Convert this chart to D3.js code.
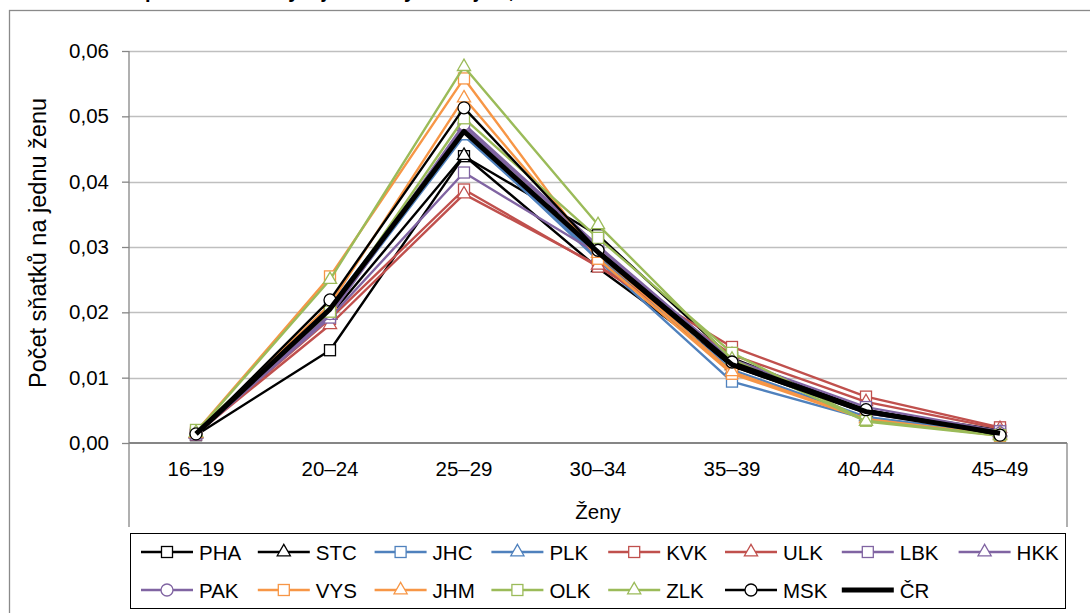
<!DOCTYPE html>
<html><head><meta charset="utf-8">
<script src="https://cdn.jsdelivr.net/npm/d3@7"></script>
<style>body{margin:0;background:#fff}svg{display:block;font-family:"Liberation Sans",Arial,sans-serif}</style>
</head><body><svg id="c" width="1090" height="613"></svg>
<script>
const categories=["16–19","20–24","25–29","30–34","35–39","40–44","45–49"];
const yTicks=[0,0.01,0.02,0.03,0.04,0.05,0.06];
const seriesNames=["PHA","STC","JHC","PLK","KVK","ULK","LBK","HKK","PAK","VYS","JHM","OLK","ZLK","MSK","ČR"];
const seriesColors=["#000000","#000000","#4F81BD","#4F81BD","#C0504D","#C0504D","#8064A2","#8064A2","#8064A2","#F79646","#F79646","#9BBB59","#9BBB59","#000000","#000000"];
const seriesMarkers=["square","triangle","square","triangle","square","triangle","square","triangle","circle","square","triangle","square","triangle","circle","none"];
const PHA=[0.0012,0.0142,0.0439,0.0318,0.0130,0.0050,0.0020];
const STC=[0.0014,0.0195,0.0440,0.0268,0.0118,0.0046,0.0017];
const JHC=[0.0015,0.0210,0.0474,0.0280,0.0094,0.0037,0.0013];
const PLK=[0.0014,0.0200,0.0470,0.0285,0.0112,0.0040,0.0014];
const KVK=[0.0013,0.0190,0.0388,0.0270,0.0147,0.0071,0.0024];
const ULK=[0.0014,0.0181,0.0381,0.0272,0.0135,0.0063,0.0022];
const LBK=[0.0013,0.0192,0.0414,0.0290,0.0128,0.0055,0.0018];
const HKK=[0.0014,0.0195,0.0484,0.0300,0.0125,0.0048,0.0016];
const PAK=[0.0015,0.0198,0.0488,0.0302,0.0126,0.0046,0.0015];
const VYS=[0.0017,0.0255,0.0558,0.0282,0.0106,0.0036,0.0011];
const JHM=[0.0015,0.0212,0.0528,0.0290,0.0109,0.0037,0.0012];
const OLK=[0.0020,0.0201,0.0497,0.0314,0.0138,0.0034,0.0012];
const ZLK=[0.0016,0.0250,0.0576,0.0334,0.0128,0.0033,0.0011];
const MSK=[0.0014,0.0219,0.0513,0.0295,0.0124,0.0051,0.0012];
const CR=[0.0014,0.0205,0.0477,0.0292,0.0120,0.0048,0.0015];
const seriesValues=[PHA,STC,JHC,PLK,KVK,ULK,LBK,HKK,PAK,VYS,JHM,OLK,ZLK,MSK,CR];
const titleText="Míra sňatečnosti žen podle věku ženy v jednotlivých krajích, 2011";
const yTitle="Počet sňatků na jednu ženu";
const xTitle="Ženy";

const svg=d3.select("#c");
const L=129,R=1067,T=51,B=443;
const FS=20.5;
const x=d3.scaleBand().domain(categories).range([L,R]);
const y=d3.scaleLinear().domain([0,0.06]).range([B,T]);
const cx=c=>x(c)+x.bandwidth()/2;
const fmt=v=>d3.format(".2f")(v).replace(".",",");

// outer border
svg.append("rect").attr("x",9.5).attr("y",10.5).attr("width",1100).attr("height",620)
  .attr("fill","none").attr("stroke","#8a8a8a").attr("stroke-width",1.3);

// title (mostly cut off at top, only descenders visible)
const tt=svg.append("text").attr("y",-2).attr("font-weight","bold").attr("font-size",20).text(titleText);
const tmp=svg.append("text").attr("font-weight","bold").attr("font-size",20).style("white-space","pre").text("Míra sňatečnosti žen ");
const pre=tmp.node().getComputedTextLength();tmp.remove();
tt.attr("x",145-pre);

// gridlines
svg.append("g").selectAll("line").data(yTicks.slice(1)).join("line")
  .attr("x1",L).attr("x2",R).attr("y1",d=>Math.round(y(d))+0.5).attr("y2",d=>Math.round(y(d))+0.5)
  .attr("stroke","#bfbfbf").attr("stroke-width",1.3);

// y axis
const ya=svg.append("g").attr("transform",`translate(${L},0)`)
  .call(d3.axisLeft(y).tickValues(yTicks).tickFormat(fmt).tickSize(7).tickPadding(13));
ya.select(".domain").remove();
ya.selectAll(".tick line").attr("stroke","#868686").attr("stroke-width",1.3);
ya.selectAll("text").attr("font-size",FS).attr("fill","#000").attr("font-family","Liberation Sans, Arial, sans-serif");
svg.append("line").attr("x1",L).attr("x2",L).attr("y1",T).attr("y2",527).attr("stroke","#868686").attr("stroke-width",1.3);

// x axis
const xa=svg.append("g").attr("transform",`translate(0,${B})`)
  .call(d3.axisBottom(x).tickSize(0).tickPadding(18));
xa.select(".domain").remove();
xa.selectAll("text").attr("font-size",FS).attr("fill","#000").attr("font-family","Liberation Sans, Arial, sans-serif");
svg.append("line").attr("x1",L).attr("x2",R).attr("y1",B).attr("y2",B).attr("stroke","#868686").attr("stroke-width",2);
svg.append("line").attr("x1",R).attr("x2",R).attr("y1",B).attr("y2",527).attr("stroke","#868686").attr("stroke-width",1.3);
svg.append("text").attr("x",(L+R)/2).attr("y",519).attr("text-anchor","middle").attr("font-size",FS).text(xTitle);

// y title
svg.append("text").attr("transform","translate(46,243) rotate(-90)").attr("text-anchor","middle").attr("font-size",23.5).text(yTitle);

function marker(g,type,color,px,py){
  if(type==="square") g.append("rect").attr("x",px-5.5).attr("y",py-5.5).attr("width",11).attr("height",11)
    .attr("fill","#fff").attr("stroke",color).attr("stroke-width",1.3);
  else if(type==="triangle") g.append("path").attr("d",d3.symbol(d3.symbolTriangle,75)()).attr("transform",`translate(${px},${py})`)
    .attr("fill","#fff").attr("stroke",color).attr("stroke-width",1.3);
  else if(type==="circle") g.append("circle").attr("cx",px).attr("cy",py).attr("r",6)
    .attr("fill","#fff").attr("stroke",color).attr("stroke-width",1.3);
}

const line=d3.line().x((d,i)=>cx(categories[i])).y(d=>y(d));
const plot=svg.append("g");
seriesValues.forEach((vals,si)=>{
  const g=plot.append("g");
  g.append("path").attr("d",line(vals)).attr("fill","none").attr("stroke",seriesColors[si])
    .attr("stroke-width",seriesNames[si]==="ČR"?5:2.4).attr("stroke-linejoin","round");
  vals.forEach((v,i)=>marker(g,seriesMarkers[si],seriesColors[si],cx(categories[i]),y(v)));
});

// legend
svg.append("rect").attr("x",130.5).attr("y",533.5).attr("width",935).attr("height",75)
  .attr("fill","#fff").attr("stroke","#000").attr("stroke-width",1);
const lg=svg.append("g");
seriesNames.forEach((n,i)=>{
  const col=i%8,row=Math.floor(i/8);
  const lx=141+col*116.8, ly=552+row*38;
  const g=lg.append("g");
  g.append("line").attr("x1",lx).attr("x2",lx+52).attr("y1",ly).attr("y2",ly).attr("stroke",seriesColors[i])
    .attr("stroke-width",n==="ČR"?5:2.4);
  marker(g,seriesMarkers[i],seriesColors[i],lx+26,ly);
  g.append("text").attr("x",lx+58).attr("y",ly+7.5).attr("font-size",FS).text(n);
});
</script></body></html>
